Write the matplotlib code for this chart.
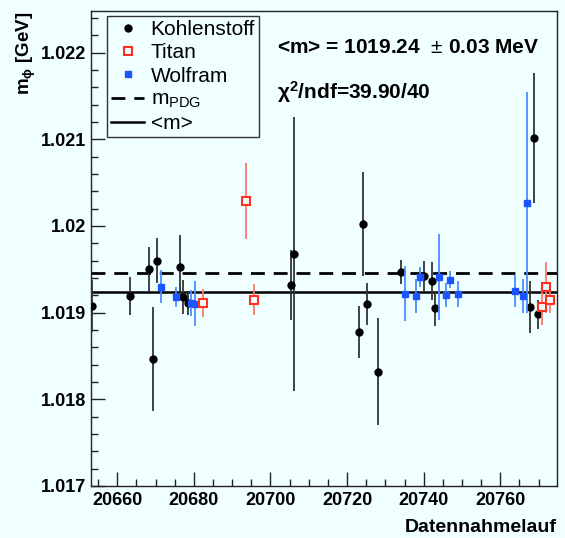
import matplotlib
matplotlib.use("Agg")
import matplotlib.pyplot as plt
from matplotlib.ticker import MultipleLocator, FixedFormatter, FixedLocator
from matplotlib.lines import Line2D

# ---------------- data ----------------
c_run = [20653.5, 20663.4, 20668.4, 20670.3, 20669.4, 20676.5, 20677.2, 20678.4,
         20705.3, 20706.1, 20723.1, 20724.2, 20725.1, 20728.0, 20734.1, 20740.1,
         20742.1, 20743.0, 20767.8, 20768.8, 20769.9]
c_m = [1.01908, 1.01919, 1.01950, 1.01960, 1.01846, 1.01953, 1.01918, 1.01911,
       1.01932, 1.01968, 1.01878, 1.02002, 1.01910, 1.01832, 1.01947, 1.01942,
       1.01936, 1.01905, 1.01907, 1.02102, 1.01898]
c_err = [0.00030, 0.00022, 0.00026, 0.00026, 0.00060, 0.00036, 0.00020, 0.00014,
         0.00040, 0.00158, 0.00030, 0.00060, 0.00024, 0.00062, 0.00014, 0.00018,
         0.00022, 0.00020, 0.00030, 0.00075, 0.00017]

t_run = [20682.3, 20693.5, 20695.8, 20770.9, 20771.9, 20772.9]
t_m = [1.01911, 1.02029, 1.01915, 1.01906, 1.01929, 1.01914]
t_err = [0.00016, 0.00044, 0.00018, 0.00020, 0.00029, 0.00014]

w_run = [20671.4, 20675.2, 20679.2, 20680.3, 20735.2, 20738.1, 20739.0, 20744.0,
         20745.8, 20746.9, 20749.0, 20763.9, 20765.9, 20766.9]
w_m = [1.01930, 1.01918, 1.01911, 1.01910, 1.01922, 1.01919, 1.01941, 1.01941,
       1.01920, 1.01938, 1.01922, 1.01925, 1.01919, 1.02027]
w_err = [0.00019, 0.00011, 0.00015, 0.00026, 0.00032, 0.00020, 0.00012, 0.00050,
         0.00014, 0.00010, 0.00015, 0.00018, 0.00020, 0.00128]

m_pdg = 1.019455
m_mean = 1.01924

x_ticks = [20660, 20680, 20700, 20720, 20740, 20760]
y_ticks = [1.017, 1.018, 1.019, 1.020, 1.021, 1.022]
y_ticklabels = ["1.017", "1.018", "1.019", "1.02", "1.021", "1.022"]

legend_labels = ["Kohlenstoff", "Titan", "Wolfram", r"m$_{\mathrm{PDG}}$", "<m>"]
mean_text = r"<m> = 1019.24  $\pm$ 0.03 MeV"
chi_text = r"χ$^{\mathbf{2}}$/ndf=39.90/40"

# ---------------- style ----------------
bg = "#f0ffff"
plt.rcParams['font.family'] = ['Liberation Sans', 'DejaVu Sans']
plt.rcParams['mathtext.fontset'] = 'custom'
plt.rcParams['mathtext.rm'] = 'Liberation Sans'
plt.rcParams['mathtext.it'] = 'Liberation Sans:italic'
plt.rcParams['mathtext.bf'] = 'Liberation Sans:bold'

fig = plt.figure(figsize=(5.65, 5.38), dpi=100, facecolor=bg)
ax = fig.add_axes([0.1605, 0.0967, 0.9858 - 0.1605, 0.9796 - 0.0967])
ax.set_facecolor(bg)

ax.set_xlim(20653.05, 20774.8)
ax.set_ylim(1.017, 1.02248)

# reference lines
ax.axhline(m_pdg, color="black", lw=2.0, ls=(0, (5.0, 3.2)), zorder=2)
ax.axhline(m_mean, color="black", lw=1.8, zorder=2)

# data
ax.errorbar(c_run, c_m, yerr=c_err, fmt='o', color='black', ecolor='#333333',
            elinewidth=1.3, capsize=0, markersize=5, zorder=4)
ax.errorbar(w_run, w_m, yerr=w_err, fmt='s', color='#1a55ff', ecolor='#4a8cff',
            elinewidth=1.3, capsize=0, markersize=4.5, zorder=5)
ax.errorbar(t_run, t_m, yerr=t_err, fmt='s', mfc=bg, mec='#ff3020', mew=1.5,
            ecolor='#ff7a6a', elinewidth=1.3, capsize=0, markersize=5.5, zorder=6)

# ticks
ax.xaxis.set_major_locator(FixedLocator(x_ticks))
ax.xaxis.set_minor_locator(MultipleLocator(5))
ax.yaxis.set_major_locator(FixedLocator(y_ticks))
ax.yaxis.set_major_formatter(FixedFormatter(y_ticklabels))
ax.yaxis.set_minor_locator(MultipleLocator(0.0002))
ax.tick_params(which='both', direction='in', top=False, right=False, width=1.0,
               color='#222222')
ax.tick_params(which='major', length=10)
ax.tick_params(which='minor', length=5)
ax.tick_params(axis='x', which='major', pad=4.5, labelsize=13)
ax.tick_params(axis='y', which='major', pad=3.5, labelsize=13)
for lab in ax.get_xticklabels() + ax.get_yticklabels():
    lab.set_fontweight('bold')
for sp in ax.spines.values():
    sp.set_linewidth(1.0)
    sp.set_color('#222222')

# labels
fig.text(0.046, 0.90, r"m$_{\mathbf{\phi}}$ [GeV]", rotation=90, ha='center',
         va='center', fontsize=13.5, fontweight='bold')
fig.text(0.986, 0.0204, "Datennahmelauf", ha='right', va='center',
         fontsize=14, fontweight='bold')
fig.text(0.490, 0.9126, mean_text, ha='left', va='center', fontsize=15,
         fontweight='bold')
fig.text(0.490, 0.829, chi_text, ha='left', va='center', fontsize=15,
         fontweight='bold')

# legend
handles = [
    Line2D([], [], ls='none', marker='o', color='black', markersize=5),
    Line2D([], [], ls='none', marker='s', mfc=bg, mec='#ff3020', mew=1.5, markersize=5.5),
    Line2D([], [], ls='none', marker='s', color='#1a55ff', markersize=4.5),
    Line2D([], [], color='black', lw=2.0, ls=(0, (5.0, 3.2))),
    Line2D([], [], color='black', lw=1.8),
]
leg = fig.legend(handles, legend_labels, loc='upper left',
                 bbox_to_anchor=(0.189, 0.970), bbox_transform=fig.transFigure,
                 fontsize=15, frameon=True, fancybox=False, shadow=False,
                 borderpad=0.2, labelspacing=0.2, handlelength=1.6,
                 handletextpad=0.3, borderaxespad=0.0)
leg.get_frame().set_facecolor(bg)
leg.get_frame().set_edgecolor('#333333')
leg.get_frame().set_linewidth(1.0)
leg.get_frame().set_alpha(1.0)

fig.savefig("out.png", dpi=100, facecolor=bg)
